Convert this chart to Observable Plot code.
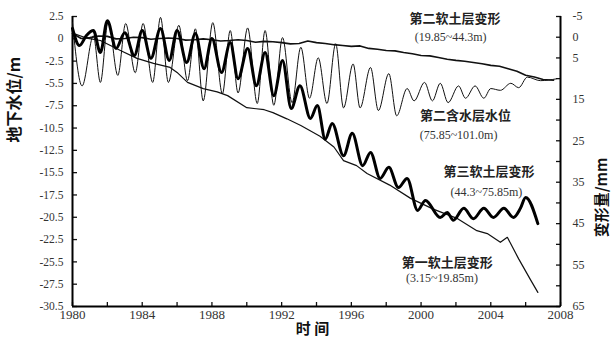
<!DOCTYPE html>
<html><head><meta charset="utf-8">
<script src="https://cdn.jsdelivr.net/npm/d3@7"></script>
<script src="https://cdn.jsdelivr.net/npm/@observablehq/plot@0.6"></script>
<style>body{margin:0;background:#fff}</style>
</head><body><div id="chart"></div>
<script>
// ---- tick labels ----
const xLabelYears = [1980,1984,1988,1992,1996,2000,2004,2008];
const xTickYears = [1980,1982,1984,1986,1988,1990,1992,1994,1996,1998,2000,2002,2004,2006,2008];
const leftLabels = ["2.5","0","-2.5","-5.5","-7.5","-10.5","-12.5","-15.5","-17.5","-20.5","-22.5","-25.5","-27.5","-30.5"];
const rightTicksMm = [-5,0,5,10,15,20,25,30,35,40,45,50,55,60,65];
const rightLabelsMm = [-5,0,5,15,25,35,45,55,65];

// ---- 第二含水层水位 (m, left axis) ----
const aquiferYear = [1980.0,1980.55,1981.2,1981.6,1982.05,1982.6,1983.05,1983.6,1984.05,1984.6,1985.05,1985.5,1986.1,1986.6,1987.05,1987.5,1988.05,1988.6,1989.05,1989.5,1990.05,1990.6,1991.05,1991.55,1992.05,1992.6,1993.1,1993.6,1994.1,1994.6,1995.1,1995.55,1996.1,1996.5,1997.1,1997.55,1998.15,1998.6,1999.2,1999.6,2000.2,2000.65,2001.1,2001.55,2002.15,2002.55,2003.1,2003.6,2004.0,2004.55,2005.15,2005.6,2006.1,2006.85,2007.75];
const aquiferLevel = [1.8,-5.4,0.3,-5.0,2.0,-4.2,1.7,-3.9,1.7,-5.0,2.4,-5.0,1.5,-4.8,1.1,-7.1,1.8,-6.3,0.9,-6.2,1.2,-7.4,0.9,-7.6,0.1,-7.3,-1.0,-6.8,-2.2,-7.4,-0.6,-7.9,-2.9,-7.9,-3.3,-8.2,-4.0,-8.8,-5.7,-7.1,-5.0,-7.1,-5.1,-7.3,-5.4,-6.8,-5.4,-6.8,-5.7,-5.9,-5.1,-5.6,-4.4,-4.8,-4.6];

// ---- 第三软土层变形 (mm, right axis) ----
const layer3Year = [1980.0,1980.4,1980.8,1981.2,1981.6,1982.0,1982.5,1983.0,1983.55,1984.0,1984.5,1985.05,1985.55,1986.0,1986.55,1987.05,1987.55,1988.0,1988.55,1989.05,1989.5,1990.05,1990.55,1991.05,1991.55,1992.05,1992.55,1993.05,1993.65,1994.05,1994.5,1994.9,1995.55,1996.05,1996.65,1997.1,1997.65,1998.15,1998.7,1999.2,1999.8,2000.25,2001.1,2001.5,2001.85,2002.45,2003.0,2003.6,2004.15,2004.75,2005.3,2005.7,2006.0,2006.7];
const layer3Mm = [-2.1,2.0,-0.4,-1.6,3.7,-4.0,2.7,-1.1,4.4,-1.6,5.1,-2.1,5.6,-1.6,6.1,-0.9,7.6,0.3,8.5,1.3,10.0,2.7,11.7,3.7,14.1,5.6,17.2,11.7,19.6,16.5,24.6,20.8,28.6,23.2,31.0,27.8,34.1,31.4,36.3,34.1,41.8,39.4,43.5,42.3,44.2,41.3,43.8,41.3,43.5,41.3,43.5,41.3,38.7,45.0];

// ---- 第二软土层变形 (mm, right axis) ----
const layer2Year = [1980.0,1980.5,1981.0,1981.5,1982.0,1982.5,1983.0,1983.5,1984.0,1984.5,1985.0,1985.5,1986.0,1986.5,1987.0,1987.5,1988.0,1988.5,1989.0,1989.5,1990.0,1990.5,1991.0,1991.5,1992.0,1992.5,1993.0,1993.5,1994.0,1994.5,1995.0,1995.5,1996.0,1996.5,1997.0,1997.5,1998.0,1998.5,1999.0,1999.5,2000.0,2000.5,2001.0,2001.5,2002.0,2002.5,2003.0,2003.5,2004.0,2004.5,2005.0,2005.5,2006.0,2006.5,2007.0,2007.6];
const layer2Mm = [-0.9,0.3,0.1,-0.3,-0.2,0.4,0.3,0.0,0.1,0.5,0.3,0.2,0.3,0.7,0.6,0.4,0.6,0.9,0.8,0.6,0.8,1.2,1.0,1.1,1.3,1.6,1.5,0.9,1.3,1.5,1.8,2.0,2.2,2.1,2.7,2.9,3.2,3.3,3.7,4.0,4.4,4.5,4.9,5.3,5.6,5.8,6.1,6.4,6.8,7.0,7.6,8.2,9.2,9.6,10.2,10.4];

// ---- 第一软土层变形 (mm, right axis) ----
const layer1Year = [1980.0,1980.8,1981.6,1982.75,1983.7,1984.65,1985.6,1986.0,1986.6,1987.5,1988.3,1988.9,1990.0,1991.0,1991.5,1992.3,1993.1,1994.2,1995.0,1995.55,1996.3,1996.9,1998.2,1999.4,2000.7,2002.1,2003.2,2003.8,2004.55,2004.95,2005.6,2006.3,2006.7];
const layer1Mm = [-1.0,0.2,0.8,3.2,5.1,6.3,7.3,8.5,10.9,12.4,13.2,14.1,17.0,17.5,18.2,19.7,21.3,23.9,26.5,29.8,31.0,32.9,35.7,38.9,41.5,43.8,46.7,47.4,49.5,48.3,53.5,58.7,61.6];

// ---- annotations ----
const notes = [
  {t:"第二软土层变形", year:2001.95, lvl:2.2, kind:"cjk"},
  {t:"(19.85~44.3m)", year:2001.7, lvl:0.1, kind:"num"},
  {t:"第二含水层水位", year:2002.55, lvl:-8.8, kind:"cjk"},
  {t:"(75.85~101.0m)", year:2002.15, lvl:-11.0, kind:"num"},
  {t:"第三软土层变形", year:2003.9, lvl:-15.2, kind:"cjk"},
  {t:"(44.3~75.85m)", year:2003.75, lvl:-17.5, kind:"num"},
  {t:"第一软土层变形", year:2001.5, lvl:-25.5, kind:"cjk"},
  {t:"(3.15~19.85m)", year:2001.2, lvl:-27.3, kind:"num"}
];

const yTop = 2.5, yBottom = -30.5;
const leftTickVals = leftLabels.map((_, i) => yTop - i * (yTop - yBottom) / (leftLabels.length - 1));
const mm2y = d3.scaleLinear([-5, 65], [yTop, yBottom]);

const aquifer = aquiferYear.map((x, i) => ({x, y: aquiferLevel[i]}));
const layer3 = layer3Year.map((x, i) => ({x, y: mm2y(layer3Mm[i])}));
const layer2 = layer2Year.map((x, i) => ({x, y: mm2y(layer2Mm[i])}));
const layer1 = layer1Year.map((x, i) => ({x, y: mm2y(layer1Mm[i])}));

const serif = "'Liberation Serif','DejaVu Serif',serif";
const cjk = "'Noto Sans CJK SC','Noto Sans CJK JP',sans-serif";

const chart = Plot.plot({
  width: 612, height: 347,
  marginTop: 16, marginBottom: 41, marginLeft: 72, marginRight: 52,
  x: {domain: [1980, 2008]},
  y: {domain: [yBottom, yTop]},
  style: {fontFamily: serif, background: "#fff", color: "#111", overflow: "visible"},
  marks: [
    Plot.axisX({ticks: xTickYears, tickSize: -4, text: null, label: null, strokeWidth: 1.3}),
    Plot.axisX({ticks: xLabelYears, tickSize: 0, tickPadding: 3, tickFormat: d => String(d), label: null, fontSize: 13, fill: "#333", letterSpacing: "1px"}),
    Plot.axisY({anchor: "left", ticks: leftTickVals, tickSize: -5, text: null, label: null, strokeWidth: 1.3}),
    Plot.axisY({anchor: "left", ticks: leftTickVals, tickSize: 0, tickPadding: 9, tickFormat: d => leftLabels[leftTickVals.indexOf(d)], label: null, fontSize: 11.5, fill: "#333"}),
    Plot.axisY({anchor: "right", ticks: rightTicksMm.map(mm2y), tickSize: -5, text: null, label: null, strokeWidth: 1.3}),
    Plot.axisY({anchor: "right", ticks: rightLabelsMm.map(mm2y), tickSize: 0, tickPadding: 12, tickFormat: d => String(Math.round(mm2y.invert(d))), label: null, fontSize: 12, fill: "#333", letterSpacing: "1px"}),
    Plot.ruleX([1980], {stroke: "#000", strokeWidth: 2}),
    Plot.ruleX([2008], {stroke: "#000", strokeWidth: 2}),
    Plot.ruleY([yBottom], {stroke: "#000", strokeWidth: 2}),
    Plot.line(layer2, {x: "x", y: "y", stroke: "#111", strokeWidth: 1.6}),
    Plot.line(layer1, {x: "x", y: "y", stroke: "#111", strokeWidth: 1.2}),
    Plot.line(aquifer, {x: "x", y: "y", stroke: "#111", strokeWidth: 1, curve: "monotone-x"}),
    Plot.line(layer3, {x: "x", y: "y", stroke: "#000", strokeWidth: 3, curve: "monotone-x"}),
    Plot.text(notes.filter(d => d.kind === "cjk"), {x: "year", y: "lvl", text: "t", fontFamily: cjk, fontSize: 13, fill: "#222", fontWeight: "bold"}),
    Plot.text(notes.filter(d => d.kind === "num"), {x: "year", y: "lvl", text: "t", fontFamily: serif, fontSize: 12, fill: "#333"}),
    Plot.text(["地下水位/m"], {frameAnchor: "left", rotate: -90, dx: -58, dy: -19, fontFamily: cjk, fontSize: 16, fontWeight: "bold", fill: "#111"}),
    Plot.text(["变形量/mm"], {frameAnchor: "right", rotate: -90, dx: 42, dy: -4, fontFamily: cjk, fontSize: 15, fontWeight: "bold", fill: "#111"}),
    Plot.text(["时 间"], {frameAnchor: "bottom", dx: -4, dy: 27, fontFamily: cjk, fontSize: 15, fontWeight: "bold", fill: "#111"})
  ]
});
document.getElementById("chart").appendChild(chart);
</script>
</body></html>
